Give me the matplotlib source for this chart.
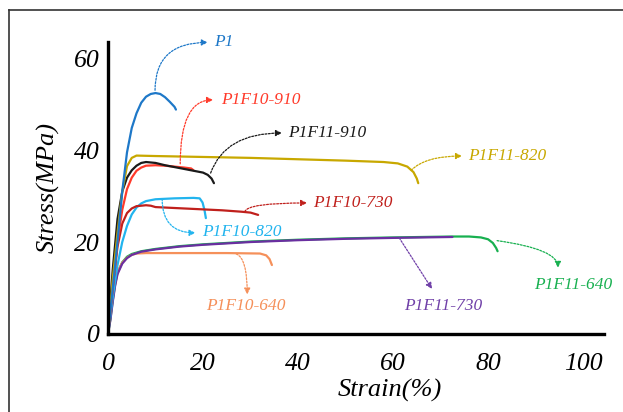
import matplotlib
matplotlib.use("Agg")
import matplotlib.pyplot as plt
from matplotlib.lines import Line2D

plt.rcParams["font.family"] = ["Liberation Serif", "DejaVu Serif"]
plt.rcParams["font.style"] = "italic"

# strain (%) / stress (MPa)
p1_x = [0, 1, 2, 3, 4, 5, 6, 7, 8, 9, 10, 11, 12, 13, 14, 14.3]
p1_y = [0, 10, 20, 31, 39.5, 44.8, 48, 50.3, 51.6, 52.2, 52.4, 52.2, 51.5, 50.5, 49.4, 48.8]

f10_910_x = [0, 1, 2, 3, 4, 5, 6, 7, 8, 10, 12, 14, 16, 17.5, 18]
f10_910_y = [0, 10, 20, 27, 31.5, 34, 35.5, 36.2, 36.6, 36.7, 36.6, 36.4, 36.2, 36.0, 35.6]

f11_910_x = [0, 1, 2, 3, 4, 5, 6, 7, 8, 10, 12, 14, 16, 18, 20, 21, 21.8, 22.3]
f11_910_y = [0, 14, 25, 31, 34, 35.6, 36.6, 37.2, 37.4, 37.2, 36.7, 36.3, 35.9, 35.5, 35.1, 34.6, 33.8, 32.8]

f11_820_x = [0, 1, 2, 3, 4, 5, 6, 10, 20, 30, 40, 50, 58, 61, 63, 64.3, 65, 65.3]
f11_820_y = [0, 12, 22, 31, 36.5, 38.3, 38.8, 38.7, 38.5, 38.3, 38.0, 37.7, 37.4, 37.1, 36.4, 35.2, 33.8, 32.8]

f10_730_x = [0, 1, 2, 3, 4, 5, 6, 8, 9, 10, 12, 16, 20, 24, 28, 30, 31.6]
f10_730_y = [0, 10, 19, 24, 26.3, 27.3, 27.8, 28.0, 27.9, 27.6, 27.5, 27.3, 27.1, 26.9, 26.6, 26.4, 25.9]

f10_820_x = [0, 1, 2, 3, 4, 5, 6, 7, 8, 10, 14, 18, 19.3, 19.9, 20.3, 20.6]
f10_820_y = [0, 8, 15, 20, 23.5, 26, 27.5, 28.4, 28.9, 29.3, 29.5, 29.6, 29.5, 28.6, 27.0, 25.2]

f11_730_x = [0, 0.5, 1, 1.5, 2, 3, 4, 5, 7, 10, 15, 20, 30, 40, 50, 60, 72.5]
f11_730_y = [0, 3, 7, 10.5, 13, 15.3, 16.5, 17.2, 17.9, 18.4, 19.0, 19.4, 20.0, 20.4, 20.7, 20.9, 21.1]

f11_640_x = [0, 0.5, 1, 1.5, 2, 3, 4, 5, 7, 10, 15, 20, 30, 40, 50, 60, 72.5, 76, 78.5, 80, 81, 81.7, 82]
f11_640_y = [0, 3.2, 7.3, 10.8, 13.3, 15.6, 16.8, 17.4, 18.0, 18.5, 19.1, 19.5, 20.1, 20.5, 20.8, 21.0, 21.2, 21.2, 21.0, 20.6, 19.8, 18.7, 18.0]

f10_640_x = [0, 0.5, 1, 2, 3, 4, 5, 6, 8, 15, 25, 32, 33.3, 34, 34.5]
f10_640_y = [0, 4, 8.5, 13.5, 15.5, 16.6, 17.2, 17.5, 17.6, 17.6, 17.6, 17.5, 17.1, 16.3, 15.0]

x_ticks = [0, 20, 40, 60, 80, 100]
y_ticks = [0, 20, 40, 60]

fig = plt.figure(figsize=(6.23, 4.12), dpi=100)
ax = fig.add_axes([108 / 623, 1 - 334 / 412, 496 / 623, 292 / 412])

curves = [
    (f11_640_x, f11_640_y, "#18b050"),
    (f10_640_x, f10_640_y, "#f5905a"),
    (f11_730_x, f11_730_y, "#6a2fa0"),
    (f10_820_x, f10_820_y, "#22b4ee"),
    (f10_730_x, f10_730_y, "#c0201c"),
    (f10_910_x, f10_910_y, "#ff3a2a"),
    (f11_910_x, f11_910_y, "#1a1a1a"),
    (f11_820_x, f11_820_y, "#c8a800"),
    (p1_x, p1_y, "#1e78c8"),
]
for xs, ys, col in curves:
    ax.plot(xs, ys, color=col, lw=1.6, solid_capstyle="round")

# label, colour, arrow start, arrow tip, angleA, angleB, text pos, ha
labels = [
    ("P1", "#1e78c8", (9.9, 53.0), (21.0, 63.4), 90, 0, (22.4, 63.4), "left"),
    ("P1F10-910", "#ff3a2a", (15.2, 37.0), (22.1, 50.9), 90, 0, (23.8, 50.8), "left"),
    ("P1F11-910", "#1a1a1a", (21.6, 35.0), (36.6, 43.7), 70, 0, (37.9, 43.7), "left"),
    ("P1F11-820", "#c8a800", (63.8, 35.6), (74.5, 38.7), 45, 0, (75.8, 38.7), "left"),
    ("P1F10-730", "#c0201c", (28.8, 26.6), (41.9, 28.5), 75, 0, (43.2, 28.4), "left"),
    ("P1F10-820", "#22b4ee", (11.4, 29.4), (18.4, 22.0), -90, 0, (19.7, 22.1), "left"),
    ("P1F10-640", "#f5905a", (27.0, 17.4), (29.3, 8.6), -20, 90, (29.1, 6.0), "center"),
    ("P1F11-730", "#7040a8", (61.3, 20.9), (68.2, 9.8), None, None, (70.5, 6.0), "center"),
    ("P1F11-640", "#18b050", (81.9, 20.3), (94.7, 14.4), -8, 90, (97.9, 10.6), "center"),
]
for text, col, start, tip, a_a, a_b, tpos, ha in labels:
    if a_a is None:
        conn = "arc3,rad=0"
    else:
        conn = f"angle3,angleA={a_a},angleB={a_b}"
    ax.annotate("", xy=tip, xytext=start,
                arrowprops=dict(arrowstyle="-|>", color=col, lw=0.9,
                                linestyle=(0, (1.5, 1.2)), connectionstyle=conn,
                                shrinkA=0, shrinkB=0, mutation_scale=9),
                annotation_clip=False)
    ax.text(tpos[0], tpos[1], text, color=col, fontsize=12.5, ha=ha, va="center",
            clip_on=False)

ax.set_xlim(0, 104.4)
ax.set_ylim(0, 63.5)
ax.set_xticks(x_ticks)
ax.set_yticks(y_ticks)
ax.tick_params(axis="both", length=0, labelsize=18.5)
ax.tick_params(axis="x", pad=14)
ax.tick_params(axis="y", pad=6)
for s in ["top", "right"]:
    ax.spines[s].set_visible(False)
for s in ["left", "bottom"]:
    ax.spines[s].set_linewidth(2.4)
    ax.spines[s].set_color("black")

ax.set_xlabel("Strain(%)", fontsize=19)
ax.xaxis.set_label_coords(0.569, -0.155)
ax.set_ylabel("Stress(MPa)", fontsize=19, va="center")
ax.yaxis.set_label_coords(-0.121, 0.503)

# outer frame (top and left only)
fig.add_artist(Line2D([9 / 623, 1], [1 - 10 / 412, 1 - 10 / 412],
                      transform=fig.transFigure, color="#333333", lw=1.2))
fig.add_artist(Line2D([9 / 623, 9 / 623], [0, 1 - 10 / 412],
                      transform=fig.transFigure, color="#333333", lw=1.2))

fig.savefig("out.png", dpi=100)
